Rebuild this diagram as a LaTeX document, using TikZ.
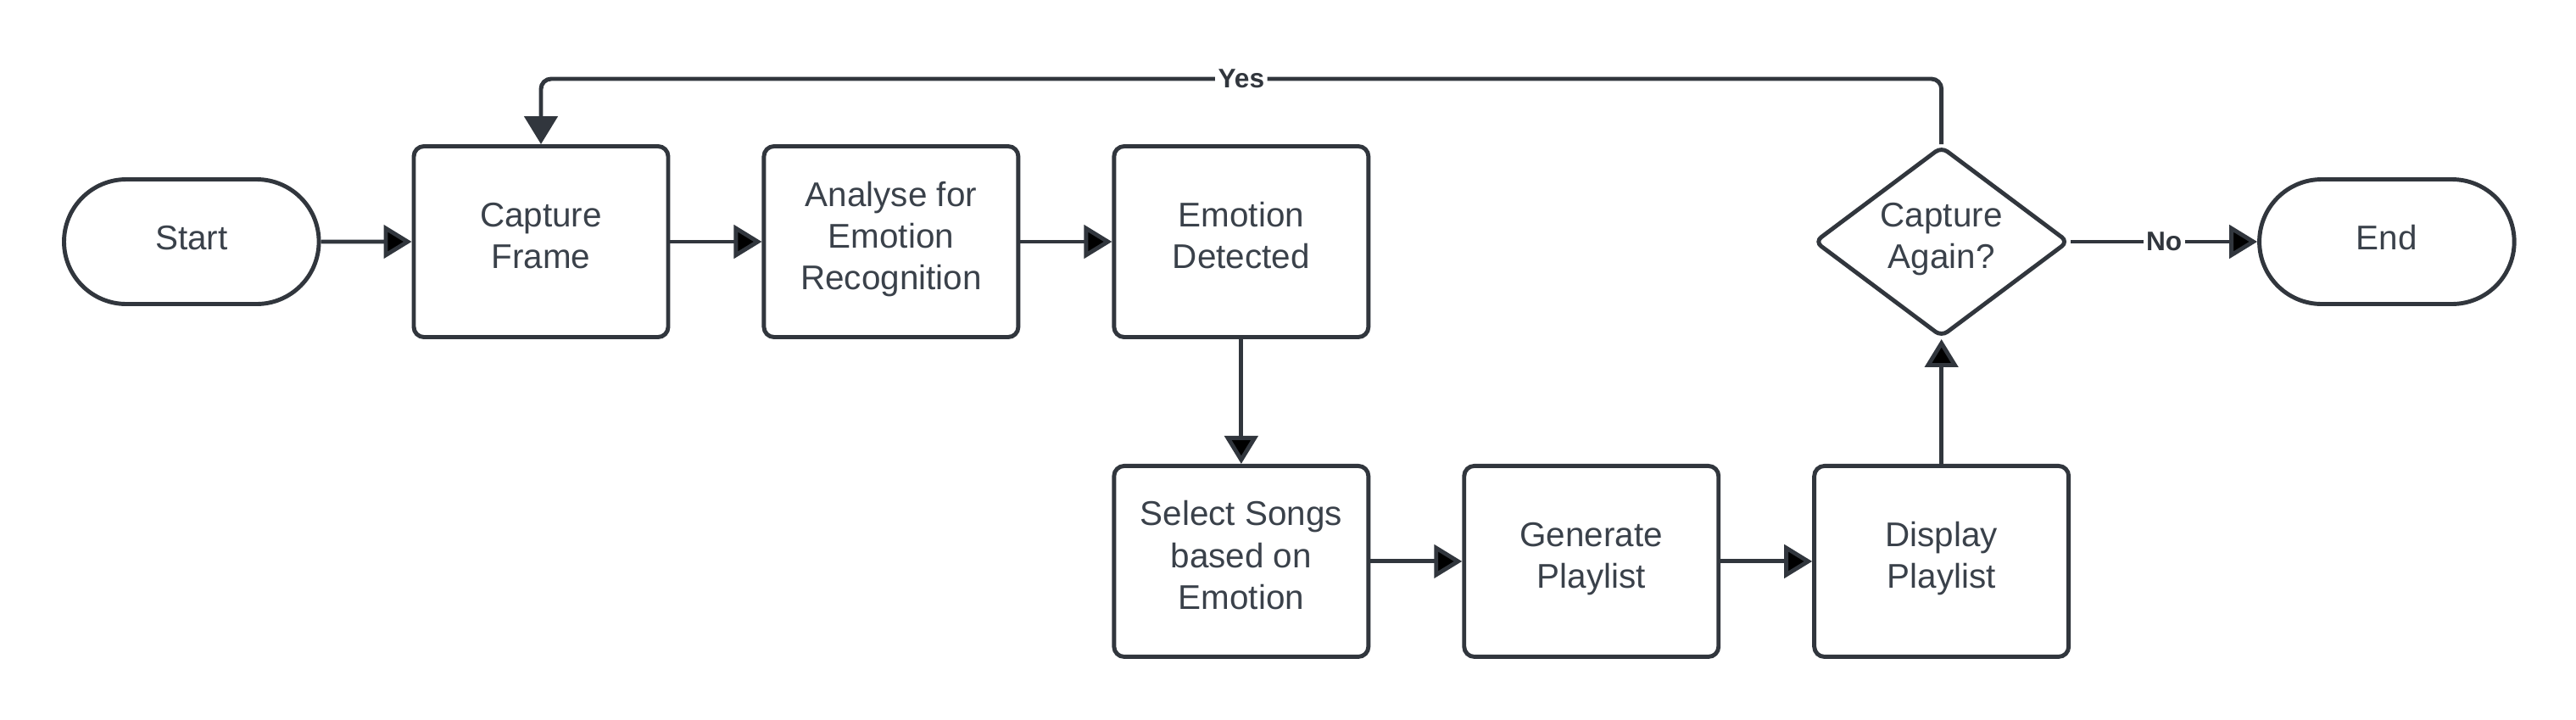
\documentclass[tikz,border=0pt]{standalone}
\usepackage{fontspec}
\setmainfont{Liberation Sans}
\usetikzlibrary{arrows.meta,positioning,shapes.geometric,shapes.misc}

\definecolor{lineclr}{HTML}{31363D}
\definecolor{textclr}{HTML}{3A414A}

\tikzset{
  label text/.style={text=textclr, font=\fontsize{11.5}{14}\selectfont,
    execute at begin node=\strut, execute at end node=\strut},
  process/.style={draw=lineclr, line width=1.4pt, rounded corners=3.4pt,
    minimum width=3cm, minimum height=2.25cm, align=center, label text},
  terminal/.style={draw=lineclr, line width=1.4pt, rounded rectangle,
    minimum width=3.24cm, minimum height=1.47cm, label text},
  decision/.style={draw=lineclr, line width=1.4pt, diamond, aspect=1.32,
    inner sep=0pt, rounded corners=2.5pt, minimum width=3cm,
    minimum height=2.25cm, align=center, label text},
  flow/.style={->, draw=lineclr, line width=1.4pt},
  answer/.style={fill=white, inner sep=1pt, text=lineclr,
    font=\fontsize{9}{11}\selectfont\bfseries}
}

\begin{document}
\begin{tikzpicture}[>={Triangle[length=3.3mm,width=3.9mm]},node distance=1.08cm]
    \useasboundingbox (0,0) rectangle (30.38,-8.48);

    \node[process] (capture) at (6.38,-2.85) {Capture\\Frame};
    \node[terminal] (start) [left=1.07cm of capture] {Start};
    \node[process] (analyse) [right=of capture] {Analyse for\\Emotion\\Recognition};
    \node[process] (detected) [right=of analyse] {Emotion\\Detected};
    \node[process] (select) [below=1.47cm of detected] {Select Songs\\based on\\Emotion};
    \node[process] (generate) [right=of select] {Generate\\Playlist};
    \node[process] (display) [right=of generate] {Display\\Playlist};
    \node[decision] (again) at (display.center |- detected.center) {Capture\\Again?};
    \node[terminal] (end) [right=2.2cm of again] {End};

    \coordinate (loopR) at (again.north |- 0,-0.93);
    \coordinate (loopL) at (capture.north |- 0,-0.93);

    \path[flow]
    (start) edge (capture)
    (capture) edge (analyse)
    (analyse) edge (detected)
    (detected) edge (select)
    (select) edge (generate)
    (generate) edge (display)
    (display) edge (again)
    (again) edge node[answer] {No} (end)
    ;
    \draw[flow, rounded corners=3.4pt]
      (again.north) -- (loopR) -- node[answer] {Yes} (loopL) -- (capture.north);
  \end{tikzpicture}
\end{document}
